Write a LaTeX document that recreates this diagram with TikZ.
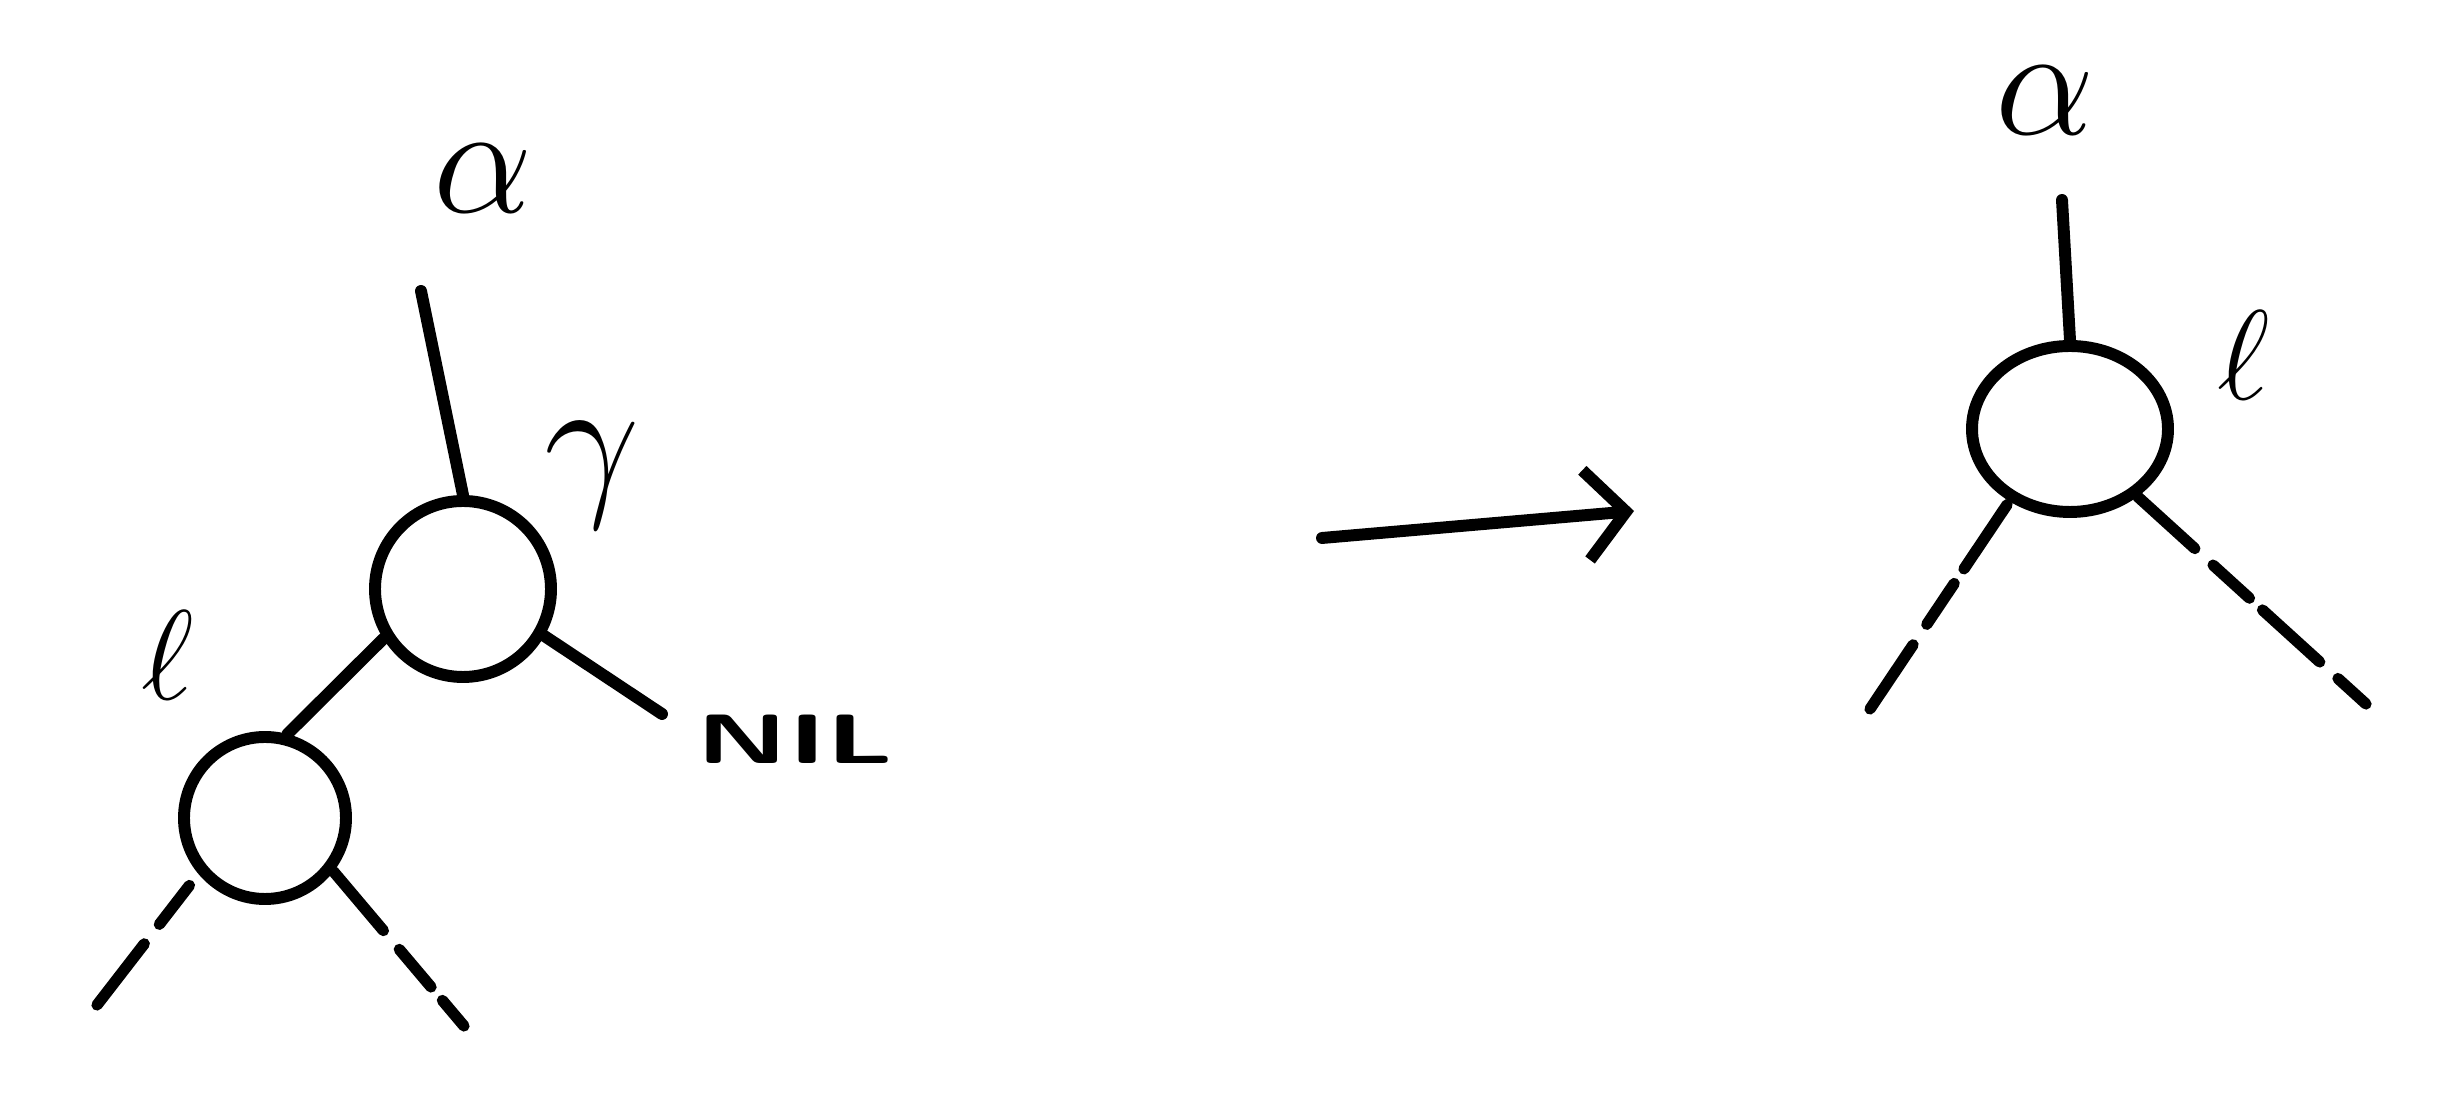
\documentclass[tikz,border=0pt]{standalone}
\usetikzlibrary{shapes.geometric, arrows.meta}
\tikzset{
  knot/.style={circle, draw, line width=3.4pt, minimum size=#1, inner sep=0pt},
  oval/.style={ellipse, draw, line width=3.4pt, inner sep=0pt},
  link/.style={line width=3.4pt, line cap=round},
  stub/.style={line width=3.2pt, line cap=round, dash pattern=on 22pt off 7pt on 14pt off 5pt},
  lbl/.style={font=\LARGE, scale=#1, inner sep=0pt},
  turn/.style={-{Straight Barb[length=4mm, width=9mm, line width=3.4pt]}, line width=3.4pt, line cap=round},
}

\begin{document}
\begin{tikzpicture}
  \useasboundingbox (0,0) rectangle (24.44,11.2);

  % before: node gamma with left child l and right NIL
  \node[knot=1.76cm] (g) at (4.63,5.31) {};
  \node[knot=1.62cm] (l) at (2.65,3.02) {};
  \node[lbl=2.6] (a1) at (4.83,9.41) {$\alpha$};
  \node[lbl=2.8] (gl) at (5.92,6.45) {$\gamma$};
  \node[lbl=2.1] (ll) at (1.68,4.65) {$\ell$};
  \node[font=\LARGE\sffamily\bfseries, xscale=1.9, yscale=1.15, inner sep=0pt] (nil) at (7.95,3.81) {NIL};
  \coordinate (t1) at (4.21,8.29);
  \coordinate (n1) at (6.62,4.06);
  \coordinate (c1) at (0.97,1.15);
  \coordinate (c2) at (4.64,0.94);
  \draw[link] (t1) -- (g.north);
  \draw[link] (g.-148) -- (l.75);
  \draw[link] (g.-30) -- (n1);
  \draw[stub] (c1) -- (l.-140);
  \draw[stub] (l.-38) -- (c2);

  % the step
  \coordinate (s0) at (13.22,5.82);
  \coordinate (s1) at (16.34,6.09);
  \draw[turn] (s0) -- (s1);

  % after: l takes the place of gamma
  \node[oval, minimum width=1.96cm, minimum height=1.66cm] (r) at (20.70,6.91) {};
  \node[lbl=2.6] (a2) at (20.45,10.19) {$\alpha$};
  \node[lbl=2.1] (rl) at (22.44,7.65) {$\ell$};
  \coordinate (t2) at (20.62,9.20);
  \coordinate (c3) at (18.70,4.11);
  \coordinate (c4) at (23.66,4.16);
  \draw[link] (t2) -- (r.north);
  \draw[stub] (c3) -- (r.-130);
  \draw[stub] (r.-45) -- (c4);
\end{tikzpicture}
\end{document}
